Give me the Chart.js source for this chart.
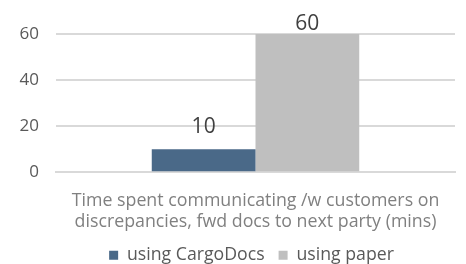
<!DOCTYPE html>
<html><head><meta charset="utf-8">
<script src="https://cdn.jsdelivr.net/npm/chart.js@4"></script>
<style>html,body{margin:0;padding:0;background:#fff}#w{width:466px;height:264px}</style>
</head><body><div id="w"><canvas id="c" width="466" height="264"></canvas></div>
<script>
const categories = [['Time spent communicating /w customers on','discrepancies, fwd docs to next party (mins)']];
const seriesNames = ['using CargoDocs','using paper'];
const cargoDocs = [10];
const paper = [60];
const yTicks = [0,20,40,60];

const FONT = "'Open Sans', Lato, sans-serif";
const labelPlugin = {
  id:'vals',
  afterLayout(chart){
    const l = chart.legend;
    if (l) { l.left += 24; l.right += 24; }
  },
  afterDatasetsDraw(chart){
    const ctx = chart.ctx;
    ctx.save();
    ctx.font = "21px " + FONT;
    ctx.fillStyle = '#404040';
    ctx.textAlign = 'center';
    ctx.textBaseline = 'alphabetic';
    chart.data.datasets.forEach((ds,i)=>{
      chart.getDatasetMeta(i).data.forEach((el,j)=>{
        const y = Math.max(el.y - 16, chart.chartArea.top - 4);
        ctx.fillText(String(ds.data[j]), el.x, y);
      });
    });
    ctx.restore();
  }
};
new Chart(document.getElementById('c'),{
  type:'bar',
  data:{labels:categories,datasets:[
    {label:seriesNames[0],data:cargoDocs,backgroundColor:'#4a6988'},
    {label:seriesNames[1],data:paper,backgroundColor:'#bfbfbf'}
  ]},
  options:{
    responsive:false,animation:false,
    layout:{padding:{left:0,right:11,top:34,bottom:-10}},
    datasets:{bar:{categoryPercentage:0.52,barPercentage:1}},
    plugins:{
      tooltip:{enabled:false},
      legend:{position:'bottom',labels:{boxWidth:9,boxHeight:9,padding:14,color:'#595959',font:{family:FONT,size:17.7}}}
    },
    scales:{
      x:{grid:{display:false},border:{color:'#d9d9d9',width:2},
         afterFit(ax){ax.height=60;},
         ticks:{color:'#808080',padding:10,font:{family:FONT,size:17.8,lineHeight:1.18}}},
      y:{min:0,max:60,afterBuildTicks(ax){ax.ticks=yTicks.map(v=>({value:v}));},
         afterFit(ax){ax.width=56;},
         grid:{color:'#d9d9d9',lineWidth:2,drawTicks:false},border:{display:false},
         ticks:{color:'#595959',padding:17,font:{family:FONT,size:17}}}
    }
  },
  plugins:[labelPlugin]
});
</script></body></html>
